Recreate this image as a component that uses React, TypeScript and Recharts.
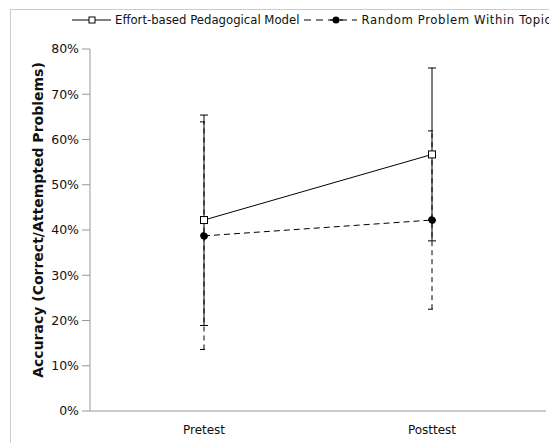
import React from 'react'
import { LineChart, Line, XAxis, YAxis, ErrorBar, ReferenceArea } from 'recharts'

// values (percent)
const categories = ['Pretest', 'Posttest']
const effortMeans = [42.2, 56.7]
const effortErr = [[23.3, 23.2], [19.1, 19.1]] // [below, above]
const randomMeans = [38.7, 42.2]
const randomErr = [[25.1, 25.2], [19.7, 19.7]]
const yTicks = [0, 10, 20, 30, 40, 50, 60, 70, 80]
const boundaryTicks = [0, 1, 2]

const data = categories.map((name, i) => ({
  name,
  effort: effortMeans[i],
  effortErr: effortErr[i],
  random: randomMeans[i],
  randomErr: randomErr[i],
}))

const AXIS = '#999999'
const FONT = '"DejaVu Sans", Verdana, sans-serif'

const SquareDot = (props: any) => {
  const { cx, cy } = props
  return <rect x={cx - 3.5} y={cy - 3.5} width={7} height={7} fill="#fff" stroke="#000" strokeWidth={1} />
}

const yLabel = () => (
  <text
    x={38}
    y={220}
    transform="rotate(-90, 38, 220)"
    textAnchor="middle"
    dominantBaseline="central"
    fontWeight="bold"
    fontSize={14}
    fill="#111"
  >
    Accuracy (Correct/Attempted Problems)
  </text>
)

export default function App() {
  return (
    <div
      style={{
        position: 'absolute',
        left: 0,
        top: 0,
        width: 549,
        height: 443,
        overflow: 'hidden',
        background: '#fff',
        fontFamily: FONT,
      }}
    >
      {/* outer frame, only top and left edges fall inside the crop */}
      <div
        style={{
          position: 'absolute',
          left: 10,
          top: 9,
          width: 700,
          height: 600,
          border: '1px solid #cccccc',
        }}
      />

      {/* legend */}
      <div
        style={{
          position: 'absolute',
          left: 72,
          top: 12,
          height: 16,
          display: 'flex',
          alignItems: 'center',
          whiteSpace: 'nowrap',
          fontSize: 11.7,
          color: '#111',
        }}
      >
        <svg width={39} height={16}>
          <line x1={0} y1={8} x2={39} y2={8} stroke="#000" />
          <rect x={17} y={5} width={6} height={6} fill="#fff" stroke="#000" />
        </svg>
        <span style={{ marginLeft: 4 }}>Effort-based Pedagogical Model</span>
        <svg width={53} height={16} style={{ marginLeft: 5 }}>
          <line x1={0} y1={8} x2={53} y2={8} stroke="#000" strokeDasharray="7 5" />
          <line x1={26} y1={8} x2={39} y2={8} stroke="#000" />
          <circle cx={32} cy={8} r={3.5} fill="#000" />
        </svg>
        <span style={{ marginLeft: 4, letterSpacing: 0.6 }}>Random Problem Within Topic</span>
      </div>

      <div style={{ position: 'absolute', left: 0, top: 0 }}>
        <LineChart width={549} height={443} data={data} margin={{ top: 49, right: 3, left: 0, bottom: 0 }}>
          <XAxis
            xAxisId="b"
            type="number"
            domain={[0, 2]}
            ticks={boundaryTicks}
            height={0}
            axisLine={false}
            tickLine={{ stroke: AXIS }}
            tickSize={4}
            tickFormatter={() => ''}
          />
          <XAxis
            dataKey="name"
            height={32}
            padding={{ left: 114, right: 114 }}
            axisLine={{ stroke: AXIS }}
            tickLine={false}
            tickSize={6}
            tickMargin={8}
            tick={{ fill: '#111', fontSize: 12 }}
          />
          <YAxis
            domain={[0, 80]}
            ticks={yTicks}
            width={90}
            tickFormatter={(v: number) => `${v}%`}
            axisLine={{ stroke: AXIS }}
            tickLine={{ stroke: AXIS }}
            tickSize={8}
            tickMargin={3}
            tick={{ fill: '#111', fontSize: 12.5 }}
            label={{ content: yLabel }}
          />
          <ReferenceArea xAxisId="b" x1={0} x2={2} y1={0} y2={80} fill="none" stroke={AXIS} strokeWidth={1} />
          <Line
            dataKey="random"
            stroke="#000"
            strokeWidth={1}
            strokeDasharray="6 4"
            dot={{ r: 3.5, fill: '#000', stroke: '#000' }}
            activeDot={false}
            isAnimationActive={false}
          >
            <ErrorBar dataKey="randomErr" width={4} stroke="#000" strokeWidth={1} strokeDasharray="5 4" />
          </Line>
          <Line
            dataKey="effort"
            stroke="#000"
            strokeWidth={1}
            dot={<SquareDot />}
            activeDot={false}
            isAnimationActive={false}
          >
            <ErrorBar dataKey="effortErr" width={4} stroke="#000" strokeWidth={1} />
          </Line>
        </LineChart>
      </div>
    </div>
  )
}
